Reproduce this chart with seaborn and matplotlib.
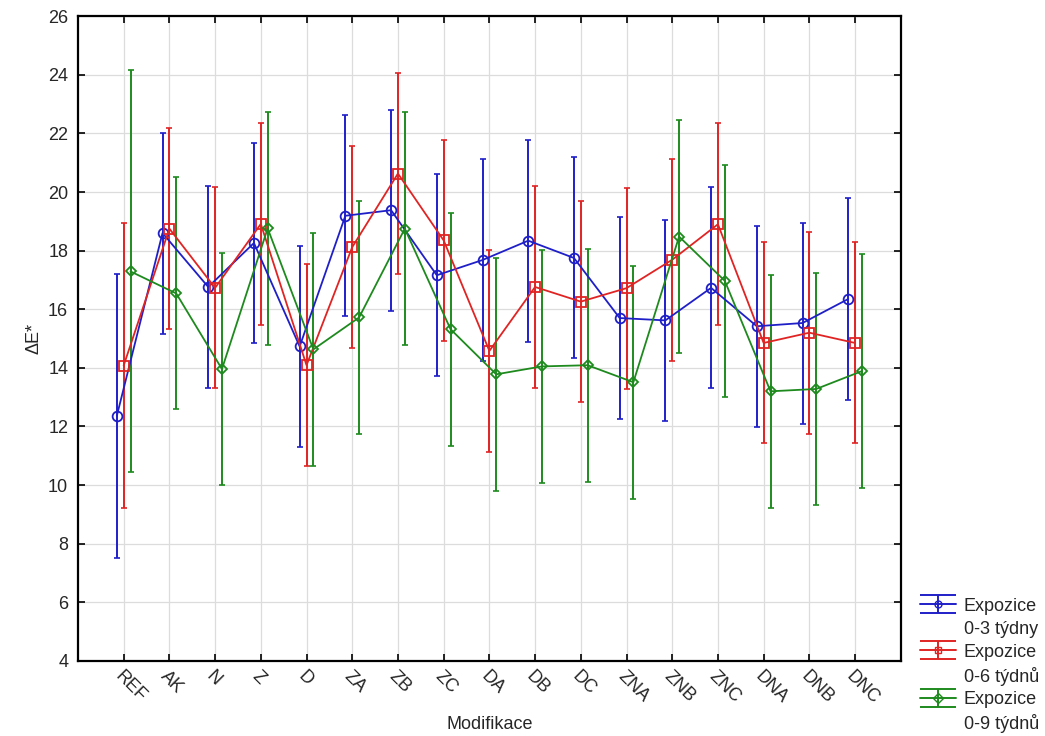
import numpy as np
import pandas as pd
import matplotlib
matplotlib.use('Agg')
import matplotlib.pyplot as plt
from matplotlib.lines import Line2D
import seaborn as sns

# Data
categories = ['REF', 'AK', 'N', 'Z', 'D', 'ZA', 'ZB', 'ZC', 'DA', 'DB', 'DC',
              'ZNA', 'ZNB', 'ZNC', 'DNA', 'DNB', 'DNC']

mean_3 = [12.36, 18.60, 16.76, 18.26, 14.73, 19.19, 19.38, 17.16, 17.68, 18.34,
          17.75, 15.70, 15.62, 16.73, 15.42, 15.53, 16.35]
err_3 = [4.85, 3.43, 3.43, 3.42, 3.44, 3.43, 3.43, 3.44, 3.43, 3.45,
         3.43, 3.45, 3.43, 3.43, 3.43, 3.43, 3.44]

mean_6 = [14.08, 18.75, 16.73, 18.91, 14.09, 18.12, 20.63, 18.35, 14.58, 16.76,
          16.26, 16.72, 17.69, 18.90, 14.85, 15.20, 14.85]
err_6 = [4.85, 3.43, 3.43, 3.44, 3.44, 3.44, 3.44, 3.43, 3.44, 3.43,
         3.43, 3.43, 3.44, 3.44, 3.43, 3.44, 3.43]

mean_9 = [17.29, 16.54, 13.96, 18.76, 14.63, 15.72, 18.75, 15.32, 13.78, 14.05,
          14.09, 13.51, 18.48, 16.97, 13.20, 13.28, 13.89]
err_9 = [6.86, 3.96, 3.97, 3.97, 3.97, 3.97, 3.97, 3.97, 3.97, 3.97,
         3.97, 3.97, 3.97, 3.96, 3.97, 3.97, 3.98]

series_periods = ['0-3 týdny', '0-6 týdnů', '0-9 týdnů']
colors = ['#1f1fc8', '#e02424', '#1e8a1e']
markers = ['o', 's', 'D']
marker_sizes = [7, 6.5, 5]
offsets = [-0.15, 0.0, 0.15]

sns.set_style('whitegrid', {'grid.color': '#dcdcdc', 'axes.edgecolor': 'black'})
plt.rcParams['font.family'] = ['Liberation Sans', 'DejaVu Sans']

fig = plt.figure(figsize=(10.45, 7.36), dpi=100)
ax = fig.add_axes([0.0746, 0.102, 0.7874, 0.876])

pos = np.arange(len(categories))
all_means = [mean_3, mean_6, mean_9]
all_errs = [err_3, err_6, err_9]

handles, labels = [], []
blank = Line2D([], [], linestyle='none', marker='none')
for means, errs, col, mk, ms, off, per in zip(all_means, all_errs, colors, markers,
                                             marker_sizes, offsets, series_periods):
    df = pd.DataFrame({'x': pos + off, 'y': means})
    ax.errorbar(df['x'], df['y'], yerr=errs, fmt='none', ecolor=col,
                elinewidth=1.4, capsize=2.5, capthick=1.2, zorder=2)
    sns.lineplot(data=df, x='x', y='y', ax=ax, color=col, marker=mk,
                 markersize=ms, markerfacecolor='none', markeredgecolor=col,
                 markeredgewidth=1.3, linewidth=1.3, zorder=3, legend=False)
    # legend proxy (no data)
    p = ax.errorbar([np.nan], [np.nan], yerr=[1], fmt=mk, color=col, ms=5,
                    mfc='none', mec=col, capsize=13, capthick=1.4,
                    elinewidth=1.4, lw=1.4, ls='-')
    handles += [p, blank]
    labels += ['Expozice', per]

if ax.get_legend() is not None:
    ax.get_legend().remove()

ax.set_xlim(-1, len(categories))
ax.set_ylim(4, 26)
ax.set_yticks(np.arange(4, 27, 2))
ax.set_xticks(pos)
ax.set_xticklabels(categories, rotation=-45, ha='left', va='top',
                   rotation_mode='anchor', fontsize=13)
ax.tick_params(axis='y', labelsize=13, pad=7)
ax.tick_params(direction='in', length=5, width=1.2, top=True, right=True,
               bottom=True, left=True, color='black')
ax.tick_params(axis='x', pad=5)
for s in ax.spines.values():
    s.set_linewidth(1.6)
    s.set_color('black')
ax.grid(True, color='#dcdcdc', linewidth=0.9)

ax.set_xlabel('Modifikace', fontsize=13, labelpad=6)
ax.set_ylabel('ΔE*', fontsize=13, labelpad=4)

leg = fig.legend(handles=handles, labels=labels, loc='upper left',
                 bbox_to_anchor=(0.880, 0.188), frameon=False, fontsize=13,
                 handlelength=2.0, handletextpad=0.45, labelspacing=0.33,
                 borderpad=0, borderaxespad=0)

fig.savefig('out.png', dpi=100)
